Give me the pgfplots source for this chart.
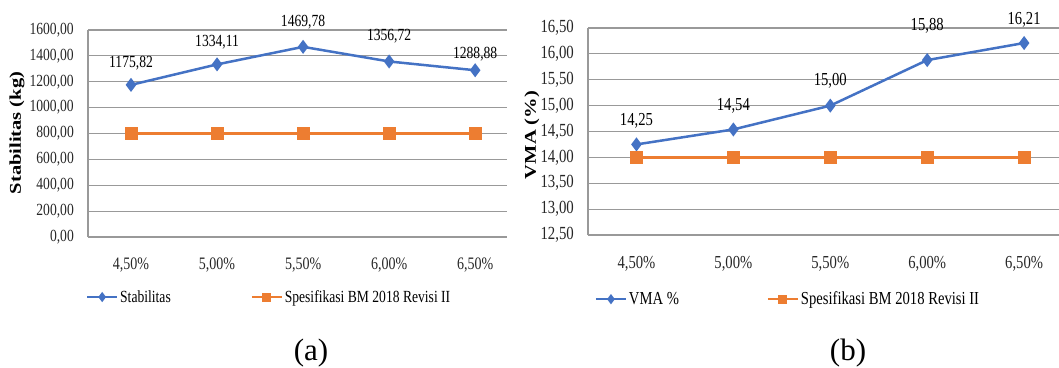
\documentclass[border=0pt]{standalone}
\usepackage{fontspec}
\setmainfont[FakeStretch=0.8]{Liberation Serif}
\newfontfamily\capfont{Liberation Serif}
\usepackage{graphicx}
\usepackage{pgfplots}
\pgfplotsset{compat=1.18}
\definecolor{cblue}{HTML}{4472C4}
\definecolor{corange}{HTML}{ED7D31}

\pgfplotstableread{
x y off
0 1175.82 22
1 1334.11 22
2 1469.78 25
3 1356.72 25
4 1288.88 16
}\stab
\pgfplotstableread{
x y
0 800
1 800
2 800
3 800
4 800
}\speca
\pgfplotstableread{
x y off
0 14.25 24
1 14.54 24
2 15.00 25
3 15.88 34
4 16.21 23
}\vma
\pgfplotstableread{
x y
0 14
1 14
2 14
3 14
4 14
}\specb

\pgfplotsset{
  mystyle/.style={
    scale only axis,
    clip=false,
    axis x line*=bottom, axis y line*=left,
    axis line style={black!40, line width=1.2pt},
    ymajorgrids, major grid style={black!40, line width=1.2pt},
    major tick length=0pt,
    xtick={0,1,2,3,4},
    xticklabels={{4,50\%},{5,00\%},{5,50\%},{6,00\%},{6,50\%}},
    /pgf/number format/use comma,
    /pgf/number format/fixed,
    /pgf/number format/fixed zerofill,
    /pgf/number format/precision=2,
    /pgf/number format/1000 sep={},
    /pgf/number format/assume math mode=true,
    yticklabel style={inner sep=0pt, anchor=east, xshift=-14pt, text=black!85},
    xticklabel style={inner sep=0pt, anchor=north, text=black!85},
    legend columns=2,
    legend cell align=left,
    legend image code/.code={\draw[mark repeat=2,mark phase=2,##1,mark size=3.5pt,line width=2pt] plot coordinates {(0pt,0pt) (15pt,0pt) (30pt,0pt)};},
  },
  blueline/.style={color=cblue, line width=2.5pt, mark=diamond*, mark size=5pt,
    mark options={solid, fill=cblue}},
  orangeline/.style={color=corange, line width=3pt, mark=square*, mark size=5pt,
    mark options={solid, fill=corange}},
}

\begin{document}
\begin{tikzpicture}
\useasboundingbox (0,0) rectangle (1059pt,367pt);

% ---------- (a) ----------
\begin{axis}[mystyle,
  at={(88pt,130pt)}, anchor=south west,
  width=419pt, height=207pt,
  xmin=-0.5, xmax=4.37,
  ymin=0, ymax=1600, ytick={0,200,...,1600},
  yticklabel style={font=\fontsize{17}{17}\selectfont},
  xticklabel style={font=\fontsize{17.5}{17.5}\selectfont, yshift=-21pt},
  legend style={at={(-0.012,-0.29)}, anchor=west, draw=none, fill=none,
    font=\fontsize{17}{17}\selectfont,
    /tikz/every even column/.append style={column sep=78pt}},
]
\addplot[blueline, nodes near coords,
  visualization depends on={\thisrow{off} \as \myoff},
  every node near coord/.append style={anchor=center, yshift=\myoff pt,
    font=\fontsize{17}{17}\selectfont, color=black, inner sep=0pt}]
  table[x=x,y=y] {\stab};
\addlegendentry{Stabilitas}
\addplot[orangeline] table[x=x,y=y] {\speca};
\addlegendentry{Spesifikasi BM 2018 Revisi II}
\end{axis}

% ---------- (b) ----------
\begin{axis}[mystyle,
  at={(588pt,132pt)}, anchor=south west,
  width=471pt, height=207pt,
  xmin=-0.5, xmax=4.36,
  ymin=12.5, ymax=16.5, ytick={12.5,13,...,16.5},
  yticklabel style={font=\fontsize{18.5}{18.5}\selectfont},
  xticklabel style={font=\fontsize{18.3}{18.3}\selectfont, yshift=-21.5pt},
  legend style={at={(0.008,-0.31)}, anchor=west, draw=none, fill=none,
    font=\fontsize{18.3}{18.3}\selectfont,
    /tikz/every even column/.append style={column sep=86pt}},
]
\addplot[blueline, nodes near coords,
  visualization depends on={\thisrow{off} \as \myoff},
  every node near coord/.append style={anchor=center, yshift=\myoff pt,
    font=\fontsize{18.3}{18.3}\selectfont, color=black, inner sep=0pt}]
  table[x=x,y=y] {\vma};
\addlegendentry{VMA \%}
\addplot[orangeline] table[x=x,y=y] {\specb};
\addlegendentry{Spesifikasi BM 2018 Revisi II}
\end{axis}

% axis titles and captions
\node[rotate=90, inner sep=0pt] at (17pt,234pt)
  {\scalebox{1}[0.8]{\capfont\bfseries\fontsize{20.5}{20.5}\selectfont Stabilitas (kg)}};
\node[rotate=90, inner sep=0pt] at (532pt,232pt)
  {\scalebox{1}[0.8]{\capfont\bfseries\fontsize{20.5}{20.5}\selectfont VMA (\%)}};
\node[inner sep=0pt, font=\capfont\fontsize{31}{31}\selectfont] at (311pt,14pt) {(a)};
\node[inner sep=0pt, font=\capfont\fontsize{31}{31}\selectfont] at (848pt,14pt) {(b)};
\end{tikzpicture}
\end{document}
